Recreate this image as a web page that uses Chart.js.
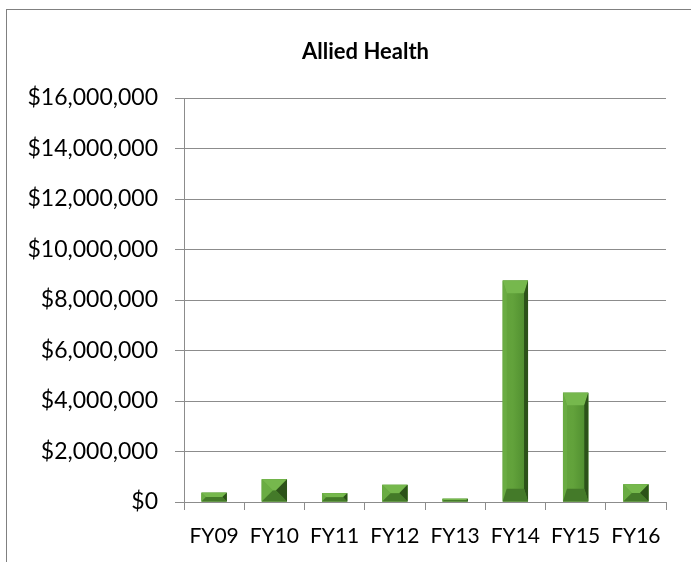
<!DOCTYPE html>
<html>
<head>
<meta charset="utf-8">
<script src="https://cdn.jsdelivr.net/npm/chart.js@4"></script>
<style>
  html, body { margin: 0; padding: 0; background: #fff; }
  #wrap { position: relative; width: 691px; height: 562px; overflow: hidden; }
  #frame { position: absolute; left: 6px; top: 9px; width: 800px; height: 700px;
           border-left: 1px solid #808080; border-top: 1px solid #808080; }
  canvas { position: absolute; left: 0; top: 0; }
</style>
</head>
<body>
<div id="wrap">
  <div id="frame"></div>
  <canvas id="c" width="691" height="562"></canvas>
</div>
<script>
const chartTitle = 'Allied Health';
const categories = ['FY09', 'FY10', 'FY11', 'FY12', 'FY13', 'FY14', 'FY15', 'FY16'];
const fundingValues = [370000, 900000, 350000, 680000, 130000, 8770000, 4330000, 700000];
const yTickValues = [0, 2000000, 4000000, 6000000, 8000000, 10000000, 12000000, 14000000, 16000000];

const FONT = 'Lato, "Open Sans", sans-serif';

const titlePlugin = {
  id: 'offsetTitle',
  afterDraw(chart, args, opts) {
    const ctx = chart.ctx;
    ctx.save();
    ctx.font = 'bold 22px ' + FONT;
    ctx.fillStyle = '#000';
    ctx.textAlign = 'center';
    ctx.textBaseline = 'middle';
    ctx.fillText(opts.text, chart.width / 2 + 20, 52);
    ctx.restore();
  }
};

const bevelPlugin = {
  id: 'bevel',
  afterDatasetsDraw(chart) {
    const ctx = chart.ctx;
    chart.getDatasetMeta(0).data.forEach(bar => {
      const p = bar.getProps(['x', 'y', 'base', 'width'], true);
      const l = p.x - p.width / 2, r = p.x + p.width / 2;
      const t = Math.min(p.y, p.base), b = Math.max(p.y, p.base);
      const w = r - l, h = b - t;
      if (h <= 0) return;
      const dy = Math.min(w / 2, h / 2);
      const dx = h < 30 ? Math.min(w / 2, h / 2) : 4;
      const il = l + dx, ir = r - dx, it = t + dy, ib = b - dy;
      const g = ctx.createLinearGradient(l, 0, r, 0);
      g.addColorStop(0, '#63a53c');
      g.addColorStop(0.4, '#62a23b');
      g.addColorStop(1, '#4c8a2d');
      ctx.save();
      ctx.fillStyle = g;
      ctx.fillRect(l, t, w, h);
      const poly = (pts, col) => {
        ctx.beginPath();
        ctx.moveTo(pts[0][0], pts[0][1]);
        for (let i = 1; i < pts.length; i++) ctx.lineTo(pts[i][0], pts[i][1]);
        ctx.closePath();
        ctx.fillStyle = col;
        ctx.fill();
      };
      poly([[l, t], [r, t], [ir, it], [il, it]], '#76b84d');
      poly([[l, t], [il, it], [il, ib], [l, b]], '#6aac43');
      poly([[r, t], [r, b], [ir, ib], [ir, it]], '#2c5219');
      poly([[l, b], [il, ib], [ir, ib], [r, b]], '#447a29');
      ctx.restore();
    });
  }
};

new Chart(document.getElementById('c'), {
  type: 'bar',
  data: {
    labels: categories,
    datasets: [{
      data: fundingValues,
      backgroundColor: '#5a9a36',
      borderWidth: 0,
      barPercentage: 0.42,
      categoryPercentage: 1.0
    }]
  },
  options: {
    responsive: false,
    animation: false,
    devicePixelRatio: 1,
    layout: { padding: { left: 10, right: 25, top: 98, bottom: 0 } },
    plugins: {
      legend: { display: false },
      tooltip: { enabled: false },
      title: { display: false },
      offsetTitle: { text: chartTitle }
    },
    scales: {
      x: {
        offset: true,
        grid: { display: true, drawOnChartArea: false, offset: true, tickLength: 8, color: '#8c8c8c' },
        border: { display: true, color: '#8c8c8c' },
        ticks: { color: '#000', font: { family: FONT, size: 21 }, padding: 14, maxRotation: 0, autoSkip: false },
        afterFit(scale) { scale.height = 60; }
      },
      y: {
        min: 0,
        max: 16000000,
        afterBuildTicks(scale) { scale.ticks = yTickValues.map(v => ({ value: v })); },
        grid: { color: '#8c8c8c', tickLength: 9 },
        border: { display: true, color: '#8c8c8c' },
        ticks: {
          color: '#000',
          font: { family: FONT, size: 23 },
          padding: 17,
          callback: v => '$' + Number(v).toLocaleString('en-US')
        },
        afterFit(scale) { scale.width = 174; }
      }
    }
  },
  plugins: [bevelPlugin, titlePlugin]
});
</script>
</body>
</html>
